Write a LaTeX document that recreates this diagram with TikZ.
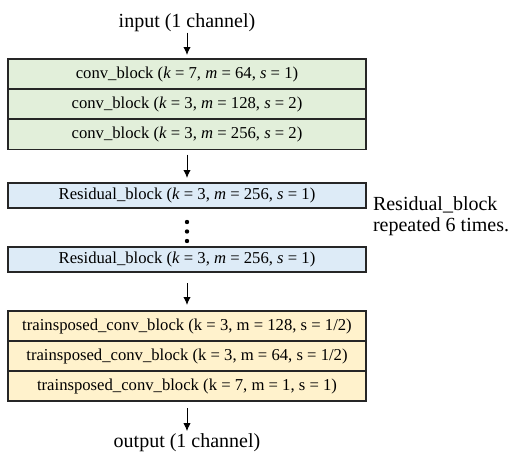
\documentclass[tikz,border=0pt]{standalone}
\usepackage{fontspec}
\setmainfont{Liberation Serif}
\usetikzlibrary{arrows.meta}
\definecolor{greenfill}{HTML}{E2EFDA}
\definecolor{bluefill}{HTML}{DDEBF7}
\definecolor{yellowfill}{HTML}{FFF2CC}
\definecolor{edgecol}{HTML}{262626}
\begin{document}
\begin{tikzpicture}[x=0.6pt,y=-0.6pt,
  rowbox/.style={draw=edgecol,line width=0.7pt,minimum width=214.8pt,minimum height=#1,
    inner sep=0pt,outer sep=0pt,font=\fontsize{10}{12}\selectfont,anchor=north},
  greenrow/.style={rowbox=18pt,fill=greenfill},
  bluerow/.style={rowbox=15pt,fill=bluefill},
  yellowrow/.style={rowbox=18pt,fill=yellowfill},
  outtext/.style={font=\fontsize{12}{12.6}\selectfont,inner sep=0pt,outer sep=0pt},
  flow/.style={-{Latex[length=4.8pt,width=4.4pt]},line width=0.6pt,black},
  dotmark/.style={fill=black,draw=none}
]
\useasboundingbox (0,0) rectangle (511,452);
% input
\node[outtext,anchor=base] (in) at (187,27) {input (1 channel)};
% conv blocks
\node[greenrow] (c1) at (187,59) {conv\_block (\textit{k} = 7, \textit{m} = 64, \textit{s} = 1)};
\node[greenrow] (c2) at (187,89) {conv\_block (\textit{k} = 3, \textit{m} = 128, \textit{s} = 2)};
\node[greenrow] (c3) at (187,119.5) {conv\_block (\textit{k} = 3, \textit{m} = 256, \textit{s} = 2)};
% residual blocks
\node[bluerow] (r1) at (187,183) {Residual\_block (\textit{k} = 3, \textit{m} = 256, \textit{s} = 1)};
\node[bluerow] (r2) at (187,247) {Residual\_block (\textit{k} = 3, \textit{m} = 256, \textit{s} = 1)};
\fill[dotmark] (187,222) circle (1.3pt);
\fill[dotmark] (187,231.5) circle (1.3pt);
\fill[dotmark] (187,241) circle (1.3pt);
\node[outtext,anchor=base west,align=left] (note) at (373,231) {Residual\_block\\repeated 6 times.};
% transposed blocks
\node[yellowrow] (t1) at (187,311) {trainsposed\_conv\_block (k = 3, m = 128, s = 1/2)};
\node[yellowrow] (t2) at (187,341) {trainsposed\_conv\_block (k = 3, m = 64, s = 1/2)};
\node[yellowrow] (t3) at (187,371) {trainsposed\_conv\_block (k = 7, m = 1, s = 1)};
% output
\node[outtext,anchor=base] (out) at (187,447) {output (1 channel)};
% arrows
\draw[flow,shorten <=0.8pt,shorten >=2.4pt] (in.south) -- (c1.north);
\draw[flow,shorten <=3pt,shorten >=3pt] (c3.south) -- (r1.north);
\draw[flow,shorten <=6.6pt,shorten >=3.6pt] (r2.south) -- (t1.north);
\draw[flow,shorten <=4.2pt,shorten >=1.2pt] (t3.south) -- (out.north);
\end{tikzpicture}
\end{document}
